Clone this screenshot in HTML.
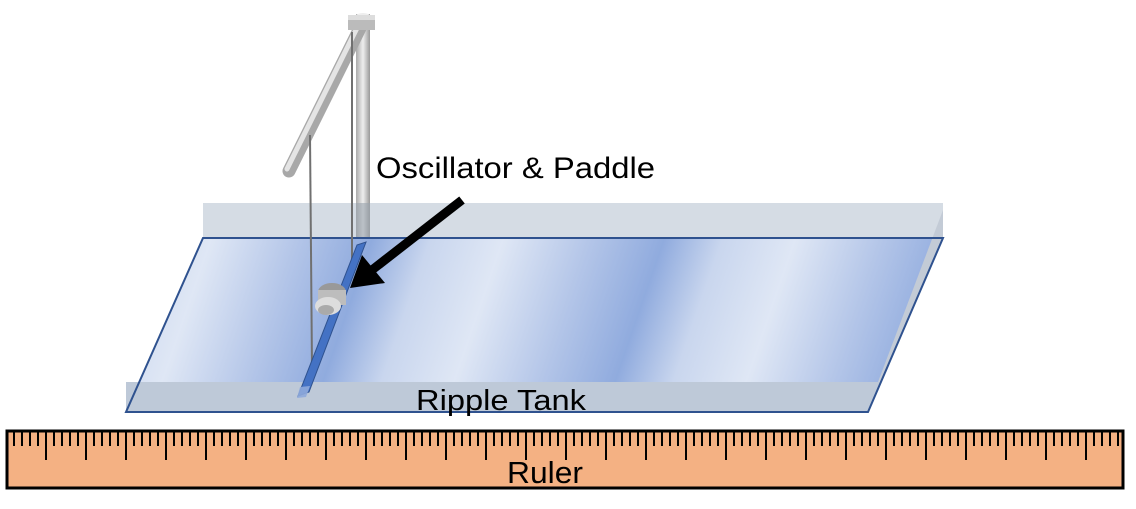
<!DOCTYPE html>
<html><head><style>
body{margin:0;width:1136px;height:504px;background:#fff;overflow:hidden;font-family:"Liberation Sans",sans-serif}
</style></head><body>
<svg width="1136" height="504" viewBox="0 0 1136 504" xmlns="http://www.w3.org/2000/svg">
<defs>
<linearGradient id="water" gradientUnits="userSpaceOnUse" x1="139" y1="238" x2="400" y2="328" spreadMethod="repeat">
<stop offset="0" stop-color="#c9d6ee"/>
<stop offset="0.25" stop-color="#dfe7f5"/>
<stop offset="0.55" stop-color="#b3c5e8"/>
<stop offset="0.8" stop-color="#90abde"/>
<stop offset="1" stop-color="#c9d6ee"/>
</linearGradient>
<linearGradient id="pole" x1="0" x2="1"><stop offset="0" stop-color="#aaa"/><stop offset="0.5" stop-color="#eee"/><stop offset="1" stop-color="#999"/></linearGradient>
</defs>
<rect x="203" y="203" width="740" height="35" fill="#d5dce4"/>
<rect x="356" y="14" width="14" height="224" fill="url(#pole)"/>
<rect x="356" y="203" width="14" height="35" fill="#9aa4ae" opacity="0.6"/>
<ellipse cx="363" cy="16" rx="7" ry="3" fill="#eee"/>
<polygon points="203,238 943,238 881,382 139,382" fill="url(#water)"/>
<polygon points="943,210 943,238 868,412 878,382" fill="#c3cbd6"/>
<polygon points="126,382 881,382 868,412 126,412" fill="#bec9d8"/>
<polygon points="203,238 943,238 868,412 126,412" fill="none" stroke="#2f528f" stroke-width="2"/>
<line x1="362" y1="24" x2="289" y2="171" stroke="#a8a8a8" stroke-width="13" stroke-linecap="round"/>
<line x1="360" y1="22" x2="287" y2="169" stroke="#e4e4e4" stroke-width="5" stroke-linecap="round"/>
<rect x="348" y="15" width="27" height="15" fill="#bbb"/>
<rect x="348" y="15" width="27" height="5" fill="#ddd"/>
<line x1="310" y1="135" x2="312" y2="368" stroke="#707070" stroke-width="2"/>
<line x1="352" y1="32" x2="352" y2="262" stroke="#707070" stroke-width="2"/>
<polygon points="357,245 366,242 309,392 298,396" fill="#4472c4" stroke="#2f528f" stroke-width="1"/>
<polygon points="300,387 310,386 306,397 297,398" fill="#8faadc" opacity="0.9"/>
<ellipse cx="332" cy="292" rx="14" ry="9" fill="#999"/>
<rect x="318" y="290" width="28" height="15" fill="#bdbdbd"/>
<ellipse cx="328" cy="306" rx="13" ry="9" fill="#ddd"/>
<ellipse cx="326" cy="310" rx="8" ry="5" fill="#aaa"/>
<line x1="462" y1="200" x2="372" y2="270" stroke="#000" stroke-width="9"/>
<polygon points="350,288 362,255 385,283" fill="#000"/>
<text x="376" y="178" font-size="30" textLength="279" lengthAdjust="spacingAndGlyphs" fill="#000">Oscillator &amp; Paddle</text>
<text x="416" y="410" font-size="29" textLength="170" lengthAdjust="spacingAndGlyphs" fill="#000">Ripple Tank</text>
<rect x="7" y="431" width="1116" height="57" fill="#f4b183" stroke="#000" stroke-width="3"/>
<g stroke="#000" stroke-width="2" id="ticks"></g>
<text x="507" y="483" font-size="31" textLength="76" lengthAdjust="spacingAndGlyphs" fill="#000">Ruler</text>
</svg>
<script>
var g=document.getElementById('ticks'),s='';
for(var x=14;x<1122;x+=8){var m=Math.round((x-46)/8);var major=((m%5)+5)%5===0;
s+='<line x1="'+x+'" y1="432" x2="'+x+'" y2="'+(major?460:446)+'"/>';}
g.innerHTML=s;
</script>
</body></html>
